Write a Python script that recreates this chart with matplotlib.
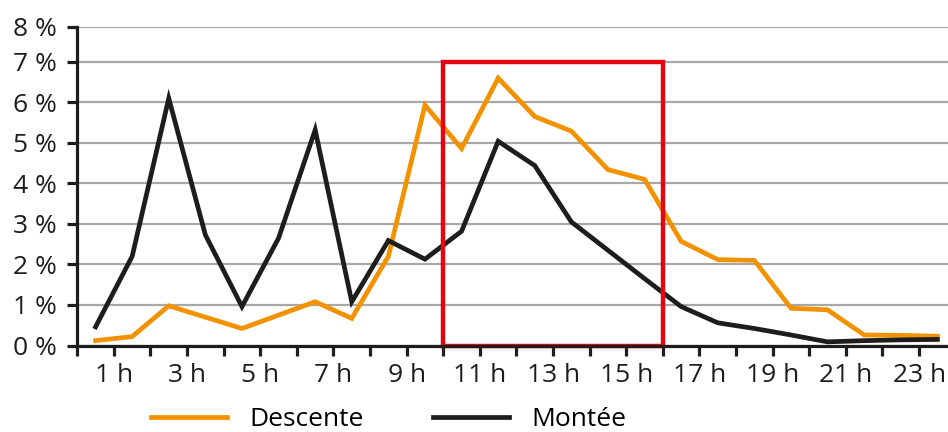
import numpy as np
import matplotlib
matplotlib.use('Agg')
import matplotlib.pyplot as plt
from matplotlib.patches import Rectangle

#----Data (share of trips per hour slot, %)----
hour_slots = np.arange(24) + 0.5
descente = [0.12, 0.22, 0.98, 0.70, 0.42, 0.75, 1.08, 0.67, 2.20, 5.93, 4.86, 6.60,
            5.65, 5.29, 4.34, 4.10, 2.57, 2.12, 2.10, 0.92, 0.88, 0.26, 0.25, 0.23]
montee = [0.46, 2.20, 6.10, 2.73, 0.96, 2.65, 5.32, 1.08, 2.59, 2.13, 2.82, 5.04,
          4.44, 3.05, 2.35, 1.65, 0.96, 0.56, 0.42, 0.26, 0.09, 0.12, 0.14, 0.15]

tick_hours = list(range(24))
tick_labels = [f'{h} h' if h % 2 == 1 else '' for h in tick_hours]
y_ticks = [0, 1, 2, 3, 4, 5, 6, 7, 7.86]
y_labels = ['0 %', '1 %', '2 %', '3 %', '4 %', '5 %', '6 %', '7 %', '8 %']

#----Highlighted period----
hl_start, hl_end, hl_top = 10, 16, 7

plt.rcParams['font.family'] = ['Open Sans', 'DejaVu Sans']

fig = plt.figure(figsize=(9.48, 4.32), dpi=100)
ax = fig.add_axes([0.0815, 0.2002, 0.9185, 0.7373])

orange = '#f39200'
black = '#1d1d1b'

ax.plot(hour_slots, descente, color=orange, lw=3.4, label='Descente', zorder=3,
        solid_joinstyle='miter')
ax.plot(hour_slots, montee, color=black, lw=3.4, label='Montée', zorder=3,
        solid_joinstyle='miter')

ax.add_patch(Rectangle((hl_start, 0), hl_end - hl_start, hl_top, fill=False,
                       edgecolor='#e30613', lw=3.2, zorder=4, clip_on=False))

ax.set_xlim(0, 23.79)
ax.set_ylim(0, 7.86)
ax.set_xticks(tick_hours)
ax.set_xticklabels(tick_labels)
ax.set_yticks(y_ticks)
ax.set_yticklabels(y_labels)

ax.grid(axis='y', color='#a8a8a8', lw=1.6)
ax.set_axisbelow(True)

for s in ['top', 'right']:
    ax.spines[s].set_visible(False)
for s in ['left', 'bottom']:
    ax.spines[s].set_linewidth(2.3)
    ax.spines[s].set_color(black)
    ax.spines[s].set_zorder(5)

ax.tick_params(axis='both', direction='out', length=7.5, width=2.3, color=black,
               labelsize=19, labelcolor=black)
ax.tick_params(axis='y', pad=7)
ax.tick_params(axis='x', pad=5)

fig.legend(loc='center left', bbox_to_anchor=(0.159, 0.028), ncol=2, frameon=False,
           fontsize=19, handlelength=2.9, handletextpad=0.85, columnspacing=2.6,
           borderpad=0, borderaxespad=0)

fig.savefig('out.png', dpi=100)
